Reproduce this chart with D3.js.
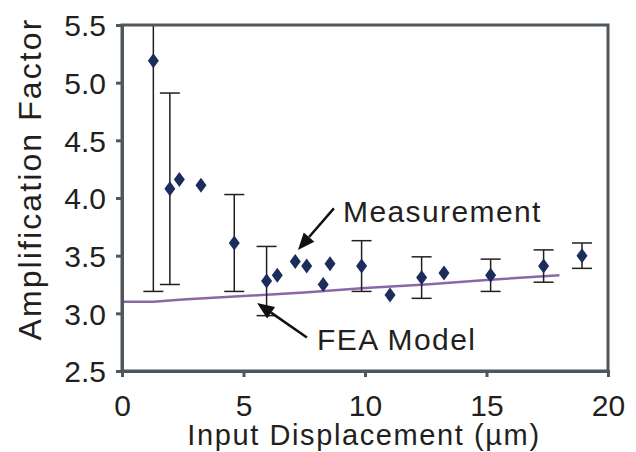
<!DOCTYPE html>
<html>
<head>
<meta charset="utf-8">
<script src="https://cdn.jsdelivr.net/npm/d3@7"></script>
<style>
  body { margin: 0; background: #fff; }
  svg text { font-family: "Liberation Sans", Arial, sans-serif; fill: #231f20; }
</style>
</head>
<body>
<div id="chart"></div>
<script>
// measured points: x (input displacement, um), amplification factor, error (+/-, 0 = none)
const measX   = [1.29, 1.97, 2.36, 3.25, 4.62, 5.95, 6.39, 7.13, 7.60, 8.28, 8.56, 9.86, 11.03, 12.33, 13.25, 15.17, 17.35, 18.93];
const measY   = [5.19, 4.08, 4.16, 4.11, 3.61, 3.28, 3.33, 3.45, 3.41, 3.25, 3.43, 3.41, 3.16, 3.31, 3.35, 3.33, 3.41, 3.50];
const measErr = [2.00, 0.83, 0, 0, 0.42, 0.30, 0, 0, 0, 0, 0, 0.22, 0, 0.18, 0, 0.14, 0.14, 0.11];

// FEA model curve
const feaX = [0, 1.3, 2.5, 5, 7.5, 10, 12.5, 15, 18];
const feaY = [3.10, 3.10, 3.12, 3.15, 3.18, 3.22, 3.25, 3.29, 3.33];

const xTicks = [0, 5, 10, 15, 20];
const yTicks = [2.5, 3.0, 3.5, 4.0, 4.5, 5.0, 5.5];

const width = 636, height = 452;
const margin = { top: 25, right: 28, bottom: 81, left: 122 };

const svg = d3.select('#chart').append('svg')
  .attr('width', width)
  .attr('height', height);

const x = d3.scaleLinear().domain([0, 20]).range([margin.left, width - margin.right]);
const y = d3.scaleLinear().domain([2.5, 5.5]).range([height - margin.bottom, margin.top]);

const axisColor = '#4f575c';

svg.append('defs').append('clipPath').attr('id', 'plot-clip')
  .append('rect')
  .attr('x', x(0)).attr('y', y(5.5))
  .attr('width', x(20) - x(0)).attr('height', y(2.5) - y(5.5));

const plot = svg.append('g').attr('clip-path', 'url(#plot-clip)');

// FEA line
plot.append('path')
  .datum(feaX.map((v, i) => [v, feaY[i]]))
  .attr('fill', 'none')
  .attr('stroke', '#8b67a9')
  .attr('stroke-width', 2.5)
  .attr('d', d3.line().x(d => x(d[0])).y(d => y(d[1])));

// error bars
const pts = measX.map((v, i) => ({ x: v, y: measY[i], e: measErr[i] }));
const bars = plot.selectAll('.err')
  .data(pts.filter(d => d.e > 0))
  .enter().append('g')
  .attr('stroke', '#231f20')
  .attr('stroke-width', 1.5);

bars.append('line')
  .attr('x1', d => x(d.x)).attr('x2', d => x(d.x))
  .attr('y1', d => y(d.y - d.e)).attr('y2', d => y(d.y + d.e));
bars.append('line')
  .attr('x1', d => x(d.x) - 10).attr('x2', d => x(d.x) + 10)
  .attr('y1', d => y(d.y - d.e)).attr('y2', d => y(d.y - d.e));
bars.append('line')
  .attr('x1', d => x(d.x) - 10).attr('x2', d => x(d.x) + 10)
  .attr('y1', d => y(d.y + d.e)).attr('y2', d => y(d.y + d.e));

// diamonds
svg.selectAll('.pt')
  .data(pts)
  .enter().append('path')
  .attr('d', 'M0,-7.5L5.5,0L0,7.5L-5.5,0Z')
  .attr('transform', d => `translate(${x(d.x)},${y(d.y)})`)
  .attr('fill', '#1b2d5c');

// frame
svg.append('rect')
  .attr('x', x(0)).attr('y', y(5.5))
  .attr('width', x(20) - x(0)).attr('height', y(2.5) - y(5.5))
  .attr('fill', 'none')
  .attr('stroke', axisColor)
  .attr('stroke-width', 3);

// axes
const xAxis = svg.append('g')
  .attr('transform', `translate(0,${y(2.5)})`)
  .call(d3.axisBottom(x).tickValues(xTicks).tickSize(6).tickPadding(10).tickFormat(d3.format('d')));
const yAxis = svg.append('g')
  .attr('transform', `translate(${x(0)},0)`)
  .call(d3.axisLeft(y).tickValues(yTicks).tickSize(6).tickPadding(10).tickFormat(d3.format('.1f')));

[xAxis, yAxis].forEach(g => {
  g.select('.domain').attr('stroke', axisColor).attr('stroke-width', 3);
  g.selectAll('.tick line').attr('stroke', axisColor).attr('stroke-width', 3);
  g.selectAll('.tick text')
    .attr('font-size', '30px')
    .attr('font-family', '"Liberation Sans", Arial, sans-serif')
    .attr('fill', '#231f20');
});
yAxis.selectAll('.tick text').attr('dy', '0.36em');
xAxis.selectAll('.tick text').attr('dy', '0.95em');

// axis titles
svg.append('text')
  .attr('x', 364).attr('y', 445)
  .attr('text-anchor', 'middle')
  .attr('font-size', '29px')
  .attr('letter-spacing', '1.6px')
  .text('Input Displacement (\u00b5m)');

svg.append('text')
  .attr('transform', 'translate(41,179) rotate(-90)')
  .attr('text-anchor', 'middle')
  .attr('font-size', '32px')
  .attr('letter-spacing', '2.1px')
  .text('Amplification Factor');

// annotations
const notes = [
  { label: 'Measurement', tx: 343, ty: 222, from: [8.72, 3.91], to: [7.24, 3.55] },
  { label: 'FEA Model', tx: 317, ty: 350, from: [7.61, 2.79], to: [5.56, 3.09] }
];

notes.forEach(n => {
  const x1 = x(n.from[0]), y1 = y(n.from[1]);
  const x2 = x(n.to[0]), y2 = y(n.to[1]);
  const ang = Math.atan2(y2 - y1, x2 - x1);
  const len = 17, half = 7;
  const bx = x2 - len * Math.cos(ang), by = y2 - len * Math.sin(ang);
  svg.append('line')
    .attr('x1', x1).attr('y1', y1).attr('x2', bx).attr('y2', by)
    .attr('stroke', '#111').attr('stroke-width', 2.5);
  svg.append('path')
    .attr('d', `M${x2},${y2}L${bx + half * Math.sin(ang)},${by - half * Math.cos(ang)}L${bx - half * Math.sin(ang)},${by + half * Math.cos(ang)}Z`)
    .attr('fill', '#111');
  svg.append('text')
    .attr('x', n.tx).attr('y', n.ty)
    .attr('font-size', '30px')
    .attr('letter-spacing', '1.4px')
    .text(n.label);
});
</script>
</body>
</html>
